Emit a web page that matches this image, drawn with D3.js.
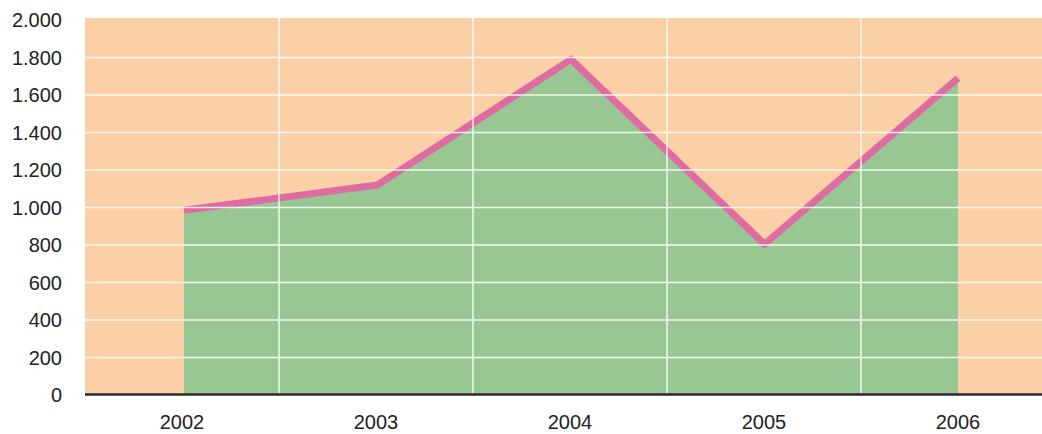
<!DOCTYPE html>
<html>
<head>
<meta charset="utf-8">
<script src="https://cdn.jsdelivr.net/npm/d3@7"></script>
<style>
	body { margin: 0; background: #fff; }
	svg { display: block; }
</style>
</head>
<body>
<div id="viz"></div>
<script>
// data
let years = ["2002", "2003", "2004", "2005", "2006"];
let values = [985, 1120, 1790, 805, 1690];
let yTicks = [0, 200, 400, 600, 800, 1000, 1200, 1400, 1600, 1800, 2000];

function draw() {
	let width = 1042, height = 434;
	let left = 85, right = 1042, top = 18, bottom = 395;

	let svg = d3.select("#viz").append("svg")
		.attr("width", width).attr("height", height);

	// band scale gives label centres + grid positions
	let xBand = d3.scaleBand().domain(years).range([left, 1055]);
	// point scale for the data line/area
	let x = d3.scalePoint().domain(years).range([184, 958]);
	let y = d3.scaleLinear().domain([0, 2000]).range([bottom, 20]);

	svg.append("rect")
		.attr("x", left).attr("y", top)
		.attr("width", right - left).attr("height", bottom - top)
		.style("fill", "#fcd0a6");

	let area = d3.area()
		.x((d, i) => x(years[i]))
		.y0(y(0))
		.y1(d => y(d));

	svg.append("path").datum(values)
		.attr("d", area)
		.style("fill", "#99c794");

	let line = d3.line()
		.x((d, i) => x(years[i]))
		.y(d => y(d));

	svg.append("path").datum(values)
		.attr("d", line)
		.style("fill", "none")
		.style("stroke", "#de6ba1")
		.style("stroke-width", 7)
		.style("stroke-linejoin", "miter");

	// grid on top
	svg.append("g").selectAll("line")
		.data(yTicks.filter(d => d > 0 && d < 2000))
		.join("line")
		.attr("x1", left).attr("x2", right)
		.attr("y1", d => y(d)).attr("y2", d => y(d))
		.attr("stroke", "#fff")
		.attr("stroke-opacity", 0.85)
		.attr("stroke-width", 1.5);

	svg.append("g").selectAll("line")
		.data(years.slice(1))
		.join("line")
		.attr("x1", d => xBand(d)).attr("x2", d => xBand(d))
		.attr("y1", top).attr("y2", bottom)
		.attr("stroke", "#fff")
		.attr("stroke-opacity", 0.85)
		.attr("stroke-width", 1.5);

	// baseline
	svg.append("line")
		.attr("x1", left).attr("x2", right)
		.attr("y1", bottom - 0.5).attr("y2", bottom - 0.5)
		.attr("stroke", "#2b2b2b")
		.attr("stroke-width", 2.5);

	svg.append("g").selectAll("text")
		.data(yTicks)
		.join("text")
		.text(d => d3.format(",")(d).replace(/,/g, "."))
		.attr("x", 62).attr("y", d => y(d))
		.attr("dy", "0.35em")
		.attr("text-anchor", "end")
		.style("fill", "#222")
		.style("font-size", "20px")
		.style("font-family", "Liberation Sans, Arial, sans-serif");

	svg.append("g").selectAll("text")
		.data(years)
		.join("text")
		.text(d => d)
		.attr("x", d => xBand(d) + xBand.bandwidth() / 2)
		.attr("y", 429)
		.attr("text-anchor", "middle")
		.style("fill", "#222")
		.style("font-size", "20px")
		.style("font-family", "Liberation Sans, Arial, sans-serif");
}
draw();
</script>
</body>
</html>
